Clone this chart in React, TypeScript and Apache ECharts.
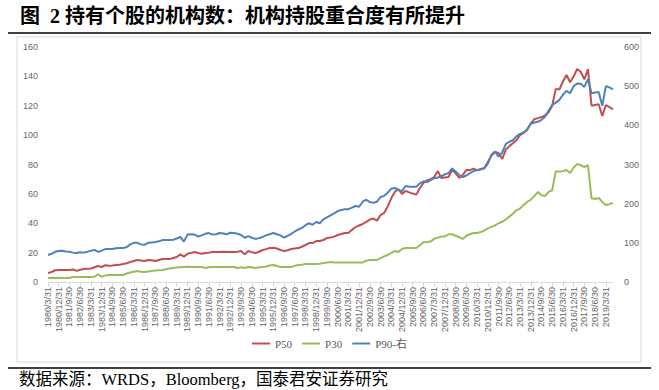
import React, { useEffect, useRef } from "react";
import * as echarts from "echarts";

const years: number[] = [];
for (let y = 1980; y <= 2019; y++) years.push(y);
const quarterEnds = ["3/31", "6/30", "9/30", "12/31"];
const categories: string[] = [];
years.forEach((y) => quarterEnds.forEach((q) => categories.push(`${y}/${q}`)));
categories.splice(159);

const p50: number[] = [
  6.1, 6.8, 8.0, 8.2, 8.2, 8.2, 8.2, 8.5, 7.6, 8.3,
  8.8, 9.0, 9.2, 10.0, 10.9, 10.2, 11.4, 11.0, 11.2, 11.6,
  11.8, 12.2, 12.8, 13.6, 14.3, 15.0, 14.6, 14.3, 15.0, 14.8,
  14.3, 15.0, 15.7, 15.7, 15.7, 16.3, 17.0, 18.8, 17.2, 19.2,
  19.7, 20.4, 19.7, 19.3, 19.7, 20.0, 20.4, 20.4, 20.4, 20.6,
  20.4, 20.4, 20.4, 20.6, 21.1, 18.8, 21.1, 20.2, 19.7, 20.6,
  21.8, 22.4, 23.1, 23.3, 22.8, 21.8, 21.1, 21.6, 22.5, 22.8,
  23.1, 24.0, 25.2, 26.5, 26.5, 27.9, 27.9, 28.6, 29.9, 30.3,
  30.9, 32.0, 32.7, 33.4, 33.4, 35.5, 37.4, 38.5, 39.5, 41.0,
  42.5, 43.2, 41.8, 45.6, 47.0, 51.5, 57.0, 61.5, 63.0, 60.0,
  62.0, 61.0, 60.2, 59.5, 64.0, 67.5, 69.2, 70.0, 71.5, 75.6,
  70.8, 71.2, 71.5, 76.2, 74.0, 70.8, 73.0, 76.2, 76.2, 77.2,
  76.0, 77.0, 77.6, 81.7, 86.0, 88.5, 87.8, 83.7, 90.0, 92.5,
  94.5, 96.5, 100.0, 101.5, 103.5, 108.0, 110.8, 111.6, 112.3, 113.5,
  115.5, 120.0, 131.5, 131.0, 136.5, 141.0, 136.0, 140.0, 145.0, 143.0,
  138.0, 145.0, 120.0, 120.5, 121.0, 113.0, 120.5, 119.0, 117.5,
];

const p30: number[] = [
  2.7, 2.7, 2.7, 2.7, 2.7, 2.7, 2.7, 3.4, 3.4, 3.4,
  3.4, 3.4, 3.4, 3.6, 5.2, 3.6, 4.5, 4.8, 4.8, 4.8,
  4.8, 4.8, 5.8, 6.5, 7.0, 7.5, 7.0, 6.8, 7.2, 7.5,
  7.8, 8.0, 8.2, 8.7, 9.2, 9.5, 9.8, 10.0, 10.2, 10.4,
  10.2, 10.2, 10.2, 10.2, 9.6, 10.1, 10.2, 10.2, 10.2, 10.2,
  10.2, 10.2, 10.2, 9.5, 10.0, 9.5, 10.2, 10.0, 9.5, 10.0,
  10.2, 10.5, 11.2, 11.6, 11.0, 10.2, 10.2, 10.2, 10.2, 11.0,
  11.6, 11.8, 12.2, 12.2, 12.2, 12.2, 12.5, 12.9, 13.2, 13.6,
  13.3, 13.2, 13.2, 13.2, 13.2, 13.2, 13.2, 13.2, 13.3, 14.5,
  15.0, 15.0, 15.0, 16.2, 17.4, 18.4, 19.8, 21.1, 20.4, 22.5,
  23.1, 23.1, 23.1, 23.1, 25.0, 27.0, 27.2, 27.5, 29.5, 30.2,
  31.0, 31.0, 32.5, 32.5, 31.5, 30.5, 29.3, 31.5, 32.5, 33.4,
  33.4, 34.0, 35.0, 36.5, 37.5, 38.5, 40.0, 41.0, 42.5, 44.5,
  46.5, 48.8, 50.0, 52.5, 54.5, 56.0, 58.5, 61.3, 59.0, 58.5,
  61.3, 62.6, 75.5, 75.0, 75.5, 76.2, 74.2, 78.0, 80.3, 79.5,
  78.3, 79.6, 57.0, 56.5, 57.2, 54.5, 52.4, 53.0, 53.8,
];

const p90: number[] = [
  69, 72, 77, 79, 80, 78, 77, 75, 74, 76,
  75, 77, 80, 82, 77, 80, 84, 84, 84, 86,
  87, 87, 89, 96, 100, 100, 96, 95, 100, 101,
  102, 104, 107, 107, 107, 108, 111, 115, 103, 121,
  122, 121, 116, 119, 123, 125, 121, 122, 125, 124,
  122, 126, 125, 123, 120, 113, 117, 113, 110, 112,
  115, 119, 122, 125, 122, 119, 113, 118, 123, 129,
  134, 138, 145, 150, 146, 153, 150, 160, 165, 170,
  175, 181, 184, 186, 186, 190, 194, 192, 205, 210,
  204, 202, 205, 217, 220, 228, 238, 240, 236, 232,
  245, 243, 243, 243, 252, 257, 255, 260, 265, 267,
  270, 275, 278, 290, 282, 273, 268, 272, 278, 283,
  286, 287, 290, 302, 325, 333, 320, 330, 352, 358,
  362, 372, 378, 382, 390, 404, 407, 409, 414, 422,
  438, 452, 458, 465, 478, 488, 482, 500, 507, 506,
  498, 518, 482, 484, 485, 450, 500, 497, 492,
];

const leftTicks = { min: 0, max: 160, interval: 20 };
const rightTicks = { min: 0, max: 600, interval: 100 };

const titleText = "图  2 持有个股的机构数：机构持股重合度有所提升";
const sourceText = "数据来源：WRDS，Bloomberg，国泰君安证券研究";

export default function App() {
  const ref = useRef<HTMLDivElement>(null);
  useEffect(() => {
    if (!ref.current) return;
    const chart = echarts.init(ref.current, null, { renderer: "svg" });
    const axisLabel = { color: "#666666", fontSize: 9, fontFamily: "Liberation Sans, Arial, sans-serif" };
    chart.setOption({
      animation: false,
      backgroundColor: "#ffffff",
      graphic: [
        {
          type: "text",
          left: 20,
          top: 6,
          style: {
            text: titleText,
            fontSize: 20,
            fontWeight: "bold",
            fontFamily: "Liberation Serif, Noto Sans CJK SC, serif",
            fill: "#000",
          },
        },
        { type: "line", shape: { x1: 8, y1: 33, x2: 651, y2: 33 }, style: { stroke: "#000", lineWidth: 1.5 } },
        { type: "rect", shape: { x: 17, y: 37, width: 624, height: 325 }, style: { fill: "none", stroke: "#d9d9d9", lineWidth: 1 } },
        { type: "line", shape: { x1: 8, y1: 368, x2: 651, y2: 368 }, style: { stroke: "#000", lineWidth: 1.5 } },
        {
          type: "text",
          left: 19,
          top: 371,
          style: {
            text: sourceText,
            fontSize: 16.5,
            fontFamily: "Liberation Serif, Noto Sans CJK SC, serif",
            fill: "#000",
          },
        },
      ],
      legend: {
        data: ["P50", "P30", "P90-右"],
        bottom: 36,
        left: "center",
        icon: "rect",
        itemWidth: 18,
        itemHeight: 2,
        itemGap: 10,
        textStyle: { color: "#595959", fontSize: 11, fontFamily: "Liberation Serif, Noto Sans CJK SC, serif" },
      },
      grid: { left: 48, right: 46, top: 47, bottom: 108, containLabel: false },
      xAxis: {
        type: "category",
        data: categories,
        boundaryGap: false,
        axisLine: { lineStyle: { color: "#d9d9d9" } },
        axisTick: { interval: 2, lineStyle: { color: "#d9d9d9" } },
        axisLabel: { ...axisLabel, rotate: 90, interval: 2, margin: 5 },
      },
      yAxis: [
        {
          type: "value",
          ...leftTicks,
          axisLine: { show: false },
          axisTick: { show: false },
          splitLine: { show: false },
          axisLabel: { ...axisLabel, margin: 10 },
        },
        {
          type: "value",
          ...rightTicks,
          axisLine: { show: false },
          axisTick: { show: false },
          splitLine: { show: false },
          axisLabel: { ...axisLabel, margin: 11 },
        },
      ],
      series: [
        { name: "P50", type: "line", data: p50, yAxisIndex: 0, showSymbol: false, lineStyle: { width: 2, color: "#C0504D" }, itemStyle: { color: "#C0504D" } },
        { name: "P30", type: "line", data: p30, yAxisIndex: 0, showSymbol: false, lineStyle: { width: 2, color: "#9BBB59" }, itemStyle: { color: "#9BBB59" } },
        { name: "P90-右", type: "line", data: p90, yAxisIndex: 1, showSymbol: false, lineStyle: { width: 2, color: "#4F81BD" }, itemStyle: { color: "#4F81BD" } },
      ],
    });
    return () => chart.dispose();
  }, []);
  return <div ref={ref} style={{ position: "absolute", left: 0, top: 0, width: 659, height: 390 }} />;
}
